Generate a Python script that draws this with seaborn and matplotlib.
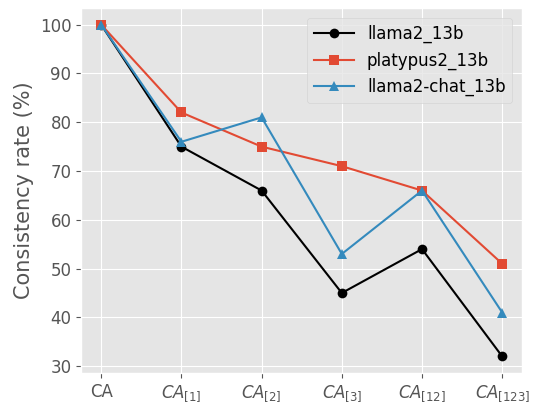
import matplotlib
matplotlib.use("Agg")
import matplotlib.pyplot as plt
import seaborn as sns
import pandas as pd

# Data
CATEGORIES = ['CA', '$CA_{[1]}$', '$CA_{[2]}$', '$CA_{[3]}$', '$CA_{[12]}$', '$CA_{[123]}$']
LLAMA2 = [100, 75, 66, 45, 54, 32]
PLATYPUS2 = [100, 82, 75, 71, 66, 51]
LLAMA2_CHAT = [100, 76, 81, 53, 66, 41]

SERIES = [
    ('llama2_13b', LLAMA2, 'black', 'o'),
    ('platypus2_13b', PLATYPUS2, '#E24A33', 's'),
    ('llama2-chat_13b', LLAMA2_CHAT, '#348ABD', '^'),
]

plt.style.use('ggplot')

fig, ax = plt.subplots(figsize=(5.34, 4.05), dpi=100)
x = list(range(len(CATEGORIES)))

for name, values, color, marker in SERIES:
    df = pd.DataFrame({'x': x, 'y': values})
    sns.lineplot(data=df, x='x', y='y', ax=ax, color=color, marker=marker,
                 markersize=7, markeredgewidth=0, linewidth=1.5, label=name)

ax.set_xticks(x)
ax.set_xticklabels(CATEGORIES, fontsize=12)
ax.tick_params(axis='y', labelsize=12)
ax.set_xlabel('')
ax.set_ylabel('Consistency rate (%)', fontsize=15)
ax.legend(loc='upper right', fontsize=12, facecolor='#E5E5E5', edgecolor='#D0D0D0',
          framealpha=0.8, handlelength=2.4, borderaxespad=0.6)

fig.subplots_adjust(left=0.152, right=0.978, top=0.98, bottom=0.079)
fig.savefig('out.png', dpi=100)
